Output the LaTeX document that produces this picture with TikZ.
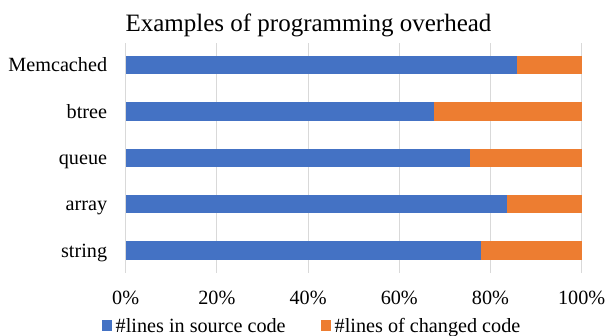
\documentclass[tikz,border=0pt]{standalone}
\usepackage{fontspec}
\setmainfont{Liberation Serif}
\definecolor{barblue}{HTML}{4472C4}
\definecolor{barorange}{HTML}{ED7D31}
\definecolor{gridgray}{HTML}{D9D9D9}
\begin{document}
\begin{tikzpicture}[x=1pt,y=-1pt,
  lbl/.style={font=\fontsize{20.2}{24}\selectfont, inner sep=0pt},
  titlestyle/.style={font=\fontsize{25}{29}\selectfont, inner sep=0pt},
  gridline/.style={draw=gridgray, line width=1pt},
  blueseg/.style={fill=barblue},
  orangeseg/.style={fill=barorange}]
\useasboundingbox (0,0) rectangle (605,335);
\fill[white] (0,0) rectangle (605,335);
% title
\node[titlestyle, anchor=base] (title) at (308.5,31) {Examples of programming overhead};
% grid and tick labels
\foreach \i/\t in {0/0\%,1/20\%,2/40\%,3/60\%,4/80\%,5/100\%}{
  \draw[gridline] ({125.7+91.2*\i},43) -- ({125.7+91.2*\i},273.3);
  \node[lbl, anchor=base] (tick\i) at ({125.7+91.2*\i},304) {\t};
}
% bars
\foreach \c/\v/\n in {65.2/85.9/Memcached, 111.5/67.5/btree, 157.8/75.6/queue, 204.1/83.7/array, 250.4/78.0/string}{
  \fill[blueseg] (125.7,{\c-9.1}) rectangle ({125.7+4.56*\v},{\c+9.1});
  \fill[orangeseg] ({125.7+4.56*\v},{\c-9.1}) rectangle (581.7,{\c+9.1});
  \node[lbl, anchor=base east] (lab-\n) at (107.3,{\c+6.6}) {\n};
}
% legend
\fill[blueseg] (102.3,320.3) rectangle (112.3,330.6);
\node[lbl, anchor=base west] (leg1) at (115.5,332) {\#lines in source code};
\fill[orangeseg] (321,320.3) rectangle (331,330.6);
\node[lbl, anchor=base west] (leg2) at (334.5,332) {\#lines of changed code};
\end{tikzpicture}
\end{document}
